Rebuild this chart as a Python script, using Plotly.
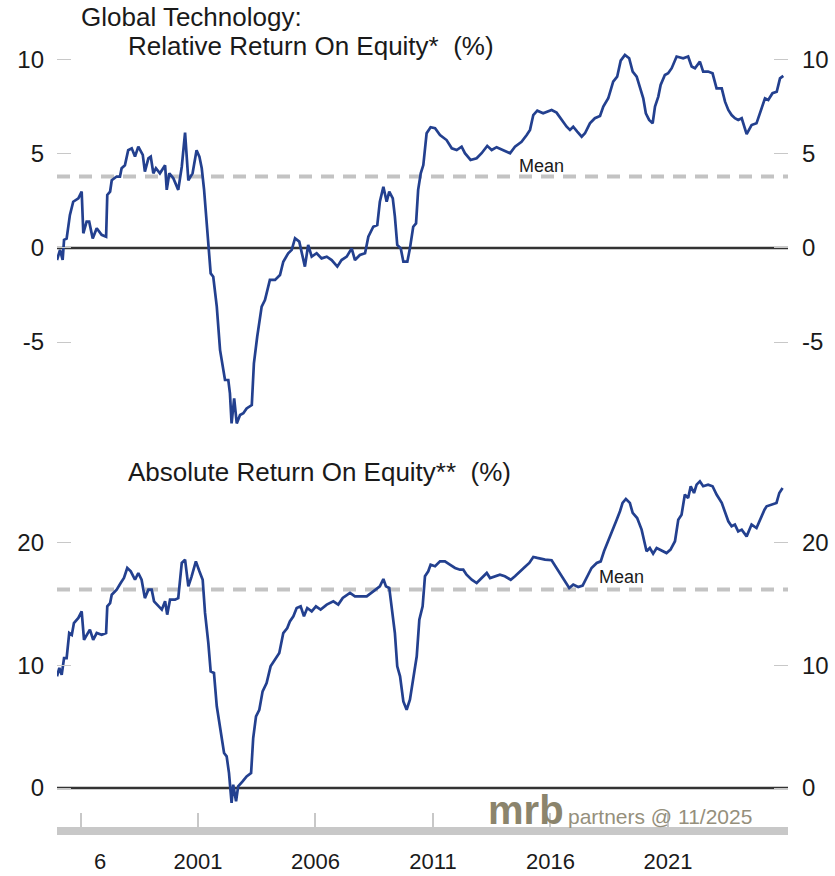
import plotly.graph_objects as go

# ---------------- data ----------------
rel_years = [1995.00, 1995.13, 1995.24, 1995.30, 1995.41, 1995.55, 1995.69, 1995.91, 1996.05, 1996.12,
             1996.26, 1996.37, 1996.52, 1996.69, 1996.90, 1997.09, 1997.14, 1997.26, 1997.33, 1997.54,
             1997.68, 1997.75, 1997.89, 1998.03, 1998.18, 1998.32, 1998.46, 1998.65, 1998.74, 1998.89,
             1998.99, 1999.10, 1999.21, 1999.38, 1999.60, 1999.67, 1999.78, 1999.95, 2000.16, 2000.31,
             2000.45, 2000.59, 2000.77, 2000.94, 2001.06, 2001.16, 2001.26, 2001.37, 2001.48, 2001.54,
             2001.65, 2001.80, 2001.94, 2002.08, 2002.15, 2002.29, 2002.36, 2002.43, 2002.54, 2002.65,
             2002.79, 2002.93, 2003.07, 2003.29, 2003.38, 2003.52, 2003.71, 2003.85, 2004.06, 2004.28,
             2004.49, 2004.63, 2004.84, 2004.99, 2005.13, 2005.31, 2005.55, 2005.69, 2005.84, 2006.05,
             2006.26, 2006.48, 2006.69, 2006.93, 2007.11, 2007.33, 2007.54, 2007.68, 2007.89, 2008.11,
             2008.25, 2008.46, 2008.63, 2008.74, 2008.89, 2009.03, 2009.14, 2009.29, 2009.38, 2009.48,
             2009.63, 2009.74, 2009.91, 2010.02, 2010.16, 2010.28, 2010.37, 2010.48, 2010.59, 2010.73,
             2010.90, 2011.09, 2011.30, 2011.58, 2011.80, 2012.01, 2012.22, 2012.36, 2012.60, 2012.86,
             2013.07, 2013.31, 2013.50, 2013.71, 2013.99, 2014.28, 2014.49, 2014.77, 2014.99, 2015.13,
             2015.27, 2015.44, 2015.69, 2015.77, 2016.05, 2016.26, 2016.48, 2016.69, 2016.83, 2016.97,
             2017.14, 2017.33, 2017.47, 2017.68, 2017.89, 2018.11, 2018.25, 2018.46, 2018.67, 2018.84,
             2018.99, 2019.17, 2019.35, 2019.50, 2019.67, 2019.81, 2019.95, 2020.06, 2020.20, 2020.35,
             2020.45, 2020.59, 2020.69, 2020.87, 2021.01, 2021.16, 2021.37, 2021.65, 2021.86, 2022.01,
             2022.15, 2022.36, 2022.50, 2022.71, 2022.90, 2023.07, 2023.29, 2023.43, 2023.57, 2023.71,
             2023.85, 2023.99, 2024.14, 2024.35, 2024.56, 2024.77, 2024.94, 2025.13, 2025.27, 2025.45,
             2025.63, 2025.77, 2025.91]
rel_roe = [-0.64, -0.10, -0.64, 0.43, 0.50, 1.76, 2.46, 2.64, 3.00, 0.78,
           1.40, 1.40, 0.50, 1.05, 0.70, 0.60, 2.82, 3.00, 3.60, 3.80,
           3.80, 4.24, 4.40, 5.20, 5.30, 4.86, 5.39, 4.95, 4.06, 4.77,
           4.86, 3.97, 4.24, 3.97, 4.40, 3.09, 3.97, 3.71, 3.09, 4.32,
           6.13, 3.60, 3.97, 5.20, 4.86, 4.24, 3.09, 1.49, -0.10, -1.35,
           -1.53, -3.12, -5.43, -6.67, -7.02, -7.02, -7.73, -9.33, -8.00, -9.33,
           -8.88, -8.79, -8.53, -8.35, -6.13, -4.72, -3.12, -2.77, -1.70, -1.70,
           -1.44, -0.73, -0.28, -0.10, 0.52, 0.34, -0.99, 0.16, -0.46, -0.28,
           -0.55, -0.46, -0.64, -0.99, -0.64, -0.46, -0.02, -0.64, -0.37, -0.28,
           0.60, 1.13, 1.22, 2.46, 3.26, 2.46, 3.00, 2.64, 1.67, 0.16,
           -0.02, -0.73, -0.73, -0.02, 1.13, 1.31, 3.09, 3.97, 4.41, 6.10,
           6.42, 6.37, 6.01, 5.74, 5.30, 5.21, 5.39, 5.04, 4.68, 4.77,
           5.04, 5.43, 5.21, 5.36, 5.21, 5.04, 5.39, 5.65, 6.01, 6.28,
           7.07, 7.30, 7.16, 7.20, 7.34, 7.20, 6.81, 6.45, 6.28, 6.45,
           6.19, 5.92, 6.10, 6.63, 6.90, 7.02, 7.52, 7.96, 8.85, 9.11,
           9.96, 10.27, 10.09, 9.38, 9.11, 8.58, 7.96, 7.16, 6.81, 6.63,
           7.52, 8.05, 8.67, 9.20, 9.29, 9.56, 10.18, 10.09, 10.18, 9.65,
           9.56, 9.91, 9.38, 9.38, 9.29, 8.49, 8.49, 7.78, 7.34, 7.07,
           6.90, 6.81, 6.90, 6.06, 6.54, 6.63, 7.25, 7.96, 7.87, 8.23,
           8.31, 9.02, 9.15]

abs_years = [1995.00, 1995.10, 1995.20, 1995.30, 1995.41, 1995.52, 1995.63, 1995.72, 1995.91, 1996.05,
             1996.15, 1996.26, 1996.40, 1996.54, 1996.69, 1996.90, 1997.09, 1997.14, 1997.26, 1997.33,
             1997.54, 1997.71, 1997.85, 1997.99, 1998.14, 1998.32, 1998.46, 1998.60, 1998.74, 1998.89,
             1999.03, 1999.13, 1999.31, 1999.46, 1999.60, 1999.69, 1999.81, 2000.02, 2000.16, 2000.31,
             2000.45, 2000.59, 2000.73, 2000.91, 2001.06, 2001.20, 2001.30, 2001.44, 2001.54, 2001.68,
             2001.80, 2001.97, 2002.11, 2002.22, 2002.32, 2002.43, 2002.50, 2002.62, 2002.71, 2002.90,
             2003.07, 2003.26, 2003.35, 2003.47, 2003.61, 2003.75, 2003.92, 2004.09, 2004.28, 2004.46,
             2004.63, 2004.80, 2004.91, 2005.06, 2005.20, 2005.37, 2005.51, 2005.65, 2005.84, 2006.02,
             2006.22, 2006.48, 2006.76, 2006.97, 2007.16, 2007.47, 2007.68, 2007.97, 2008.18, 2008.46,
             2008.74, 2008.89, 2009.00, 2009.14, 2009.29, 2009.38, 2009.48, 2009.60, 2009.74, 2009.88,
             2010.02, 2010.16, 2010.31, 2010.42, 2010.56, 2010.66, 2010.80, 2010.90, 2011.09, 2011.30,
             2011.51, 2011.72, 2011.94, 2012.15, 2012.29, 2012.43, 2012.65, 2012.86, 2013.07, 2013.29,
             2013.43, 2013.64, 2013.85, 2014.06, 2014.31, 2014.49, 2014.70, 2014.91, 2015.10, 2015.27,
             2015.44, 2015.69, 2015.77, 2016.05, 2016.26, 2016.48, 2016.69, 2016.80, 2016.97, 2017.18,
             2017.37, 2017.54, 2017.75, 2017.97, 2018.14, 2018.28, 2018.46, 2018.60, 2018.82, 2018.96,
             2019.07, 2019.21, 2019.38, 2019.50, 2019.69, 2019.88, 2019.98, 2020.09, 2020.23, 2020.37,
             2020.52, 2020.73, 2020.94, 2021.11, 2021.30, 2021.44, 2021.58, 2021.72, 2021.86, 2021.97,
             2022.11, 2022.22, 2022.36, 2022.50, 2022.71, 2022.90, 2023.07, 2023.29, 2023.43, 2023.57,
             2023.71, 2023.85, 2023.99, 2024.14, 2024.35, 2024.56, 2024.77, 2024.94, 2025.11, 2025.20,
             2025.41, 2025.62, 2025.74, 2025.88]
abs_roe = [9.12, 9.80, 9.25, 10.60, 10.60, 12.65, 12.50, 13.47, 13.88, 14.42,
           12.10, 12.50, 12.93, 12.10, 12.65, 12.50, 12.65, 14.83, 15.10, 15.78,
           16.19, 16.73, 17.14, 17.96, 17.69, 17.00, 17.55, 17.00, 15.50, 16.19,
           16.19, 15.24, 14.83, 14.56, 15.24, 14.15, 15.37, 15.37, 15.50, 18.37,
           18.64, 16.46, 17.28, 18.50, 17.69, 17.00, 14.29, 11.84, 9.52, 9.39,
           6.67, 4.49, 2.86, 2.59, 1.22, -1.22, 0.27, -1.09, 0.14, 0.54,
           0.95, 1.22, 4.08, 5.85, 6.39, 7.89, 8.57, 9.93, 10.48, 11.02,
           12.65, 13.06, 13.60, 14.01, 14.69, 14.83, 14.01, 14.69, 14.42, 14.83,
           14.56, 14.97, 15.24, 14.97, 15.51, 15.92, 15.65, 15.65, 15.65, 16.05,
           16.46, 17.06, 16.46, 16.33, 14.29, 12.65, 9.93, 9.12, 7.07, 6.39,
           7.21, 9.12, 10.75, 13.74, 14.83, 17.28, 17.69, 18.23, 18.10, 18.50,
           18.50, 18.23, 17.96, 17.82, 17.82, 17.41, 17.00, 16.73, 17.14, 17.55,
           17.14, 17.28, 17.41, 17.28, 17.00, 17.28, 17.69, 18.04, 18.37, 18.86,
           18.78, 18.64, 18.64, 18.59, 17.96, 17.28, 16.60, 16.33, 16.60, 16.41,
           16.52, 17.14, 17.96, 18.37, 18.50, 19.32, 20.14, 20.82, 21.90, 22.59,
           23.27, 23.59, 23.27, 22.45, 22.04, 21.09, 20.14, 19.32, 19.59, 19.13,
           19.59, 19.40, 19.18, 19.46, 20.14, 21.90, 22.31, 23.95, 23.67, 24.63,
           24.08, 24.76, 25.03, 24.63, 24.76, 24.63, 23.95, 23.27, 22.45, 21.77,
           21.36, 21.50, 20.95, 21.09, 20.54, 21.50, 21.22, 22.04, 22.72, 22.99,
           23.13, 23.27, 24.08, 24.49]

rel_mean = 3.8
abs_mean = 16.2
x_tick_years = [1996, 2001, 2006, 2011, 2016, 2021]
x_tick_labels = ["6", "2001", "2006", "2011", "2016", "2021"]
rel_ticks = [-5, 0, 5, 10]
rel_tick_labels = ["-5", "0", "5", "10"]
abs_ticks = [0, 10, 20]
abs_tick_labels = ["0", "10", "20"]

# ---------------- layout geometry ----------------
W, H = 835, 876
L, R, T, B = 57, 47, 0, 49
PW = W - L - R
PH = H - T - B


def pxx(x):
    return (x - L) / PW


def pxy(y):
    return (H - B - y) / PH


BLUE = "#23408f"
TXT = "#1a1a1a"
FONT = "Liberation Sans, Arial, sans-serif"
XR = [1995.0, 2026.11]
TOP_R = [-10.21, 11.06]
BOT_R = [-3.18, 27.18]

fig = go.Figure()
fig.add_trace(go.Scatter(x=rel_years, y=rel_roe, xaxis="x", yaxis="y", mode="lines",
                         line=dict(color=BLUE, width=2.7), hoverinfo="skip", showlegend=False))
fig.add_trace(go.Scatter(x=abs_years, y=abs_roe, xaxis="x2", yaxis="y2", mode="lines",
                         line=dict(color=BLUE, width=2.7), hoverinfo="skip", showlegend=False))
# invisible traces to activate the right-hand mirrored axes
fig.add_trace(go.Scatter(x=rel_years, y=rel_roe, xaxis="x", yaxis="y3", mode="lines",
                         line=dict(width=0), opacity=0, hoverinfo="skip", showlegend=False))
fig.add_trace(go.Scatter(x=abs_years, y=abs_roe, xaxis="x2", yaxis="y4", mode="lines",
                         line=dict(width=0), opacity=0, hoverinfo="skip", showlegend=False))


def yax(standoff):
    return dict(showgrid=False, zeroline=False, showline=False, ticks="inside", ticklen=14,
                tickwidth=1, tickcolor="#c8c8c8", tickfont=dict(size=24, color=TXT, family=FONT),
                ticklabelstandoff=standoff, fixedrange=True)


fig.update_layout(
    width=W, height=H,
    margin=dict(l=L, r=R, t=T, b=B, autoexpand=False),
    paper_bgcolor="white", plot_bgcolor="white",
    font=dict(family=FONT, color=TXT),
    xaxis=dict(domain=[0, 1], anchor="y", range=XR, visible=False, fixedrange=True),
    xaxis2=dict(domain=[0, 1], anchor="y2", range=XR, showgrid=False, zeroline=False,
                showline=True, linecolor="#c8c8c8", linewidth=8,
                ticks="inside", ticklen=14, tickwidth=1.5, tickcolor="#c8c8c8",
                tickvals=x_tick_years, ticktext=[""] + x_tick_labels[1:],
                tickfont=dict(size=22, color=TXT, family=FONT), ticklabelstandoff=8,
                fixedrange=True),
    yaxis=dict(domain=[pxy(440), pxy(40)], anchor="x", range=TOP_R,
               tickvals=rel_ticks, ticktext=rel_tick_labels, **yax(12)),
    yaxis2=dict(domain=[0, pxy(455)], anchor="x2", range=BOT_R,
                tickvals=abs_ticks, ticktext=abs_tick_labels, **yax(12)),
    yaxis3=dict(overlaying="y", side="right", anchor="x", range=TOP_R,
                tickvals=rel_ticks, ticktext=rel_tick_labels, **yax(13)),
    yaxis4=dict(overlaying="y2", side="right", anchor="x2", range=BOT_R,
                tickvals=abs_ticks, ticktext=abs_tick_labels, **yax(13)),
)

# zero and mean lines
for yref, mean in (("y", rel_mean), ("y2", abs_mean)):
    xref = "x" if yref == "y" else "x2"
    fig.add_shape(type="line", xref=xref + " domain", yref=yref, x0=0, x1=1, y0=mean, y1=mean,
                  line=dict(color="#c3c3c3", width=4, dash="13px,9px"), layer="below")
    fig.add_shape(type="line", xref=xref + " domain", yref=yref, x0=0, x1=1, y0=0, y1=0,
                  line=dict(color="#333333", width=2.5), layer="below")


def note(text, x, y, size, color=TXT, xanchor="left", bold=False):
    fig.add_annotation(text=f"<b>{text}</b>" if bold else text, xref="paper", yref="paper",
                       x=pxx(x), y=pxy(y), xanchor=xanchor, yanchor="middle", showarrow=False,
                       font=dict(size=size, color=color, family=FONT))


note("Global Technology:", 79, 17, 26)
note("Relative Return On Equity*  (%)", 126, 46, 26)
note("Absolute Return On Equity**  (%)", 126, 472, 26)
note("Mean", 517, 166, 18)
note("Mean", 597, 577, 18)
note(x_tick_labels[0], 100, 861, 22, xanchor="center")
note("mrb", 486, 810, 40, color="#8b846c", bold=True)
note("partners @ 11/2025", 566, 816, 21, color="#958f7c")

fig.write_html("out.html", config={"displayModeBar": False},
               post_script="document.body.style.margin='0';document.body.style.overflow='hidden';")
